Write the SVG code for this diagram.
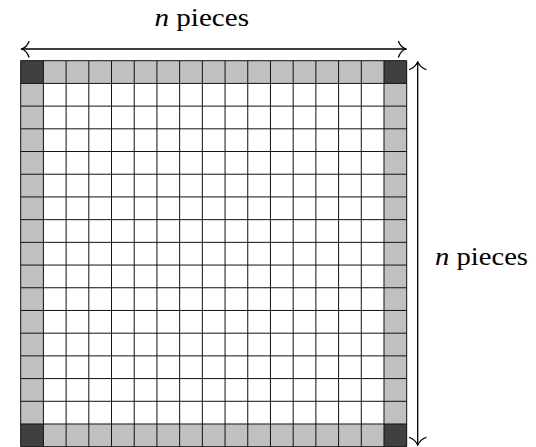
<svg xmlns="http://www.w3.org/2000/svg" width="536" height="447" viewBox="0 0 536 447">
<style>
.lbl{font-family:"Liberation Serif","DejaVu Serif",serif;font-size:26px;fill:#000}
.ln{fill:none;stroke:#000;stroke-width:1.3;stroke-linecap:round;stroke-linejoin:round}
.grid{fill:none;stroke:#111;stroke-width:1}
</style>
<rect width="536" height="447" fill="#fff"/>
<g id="board" transform="translate(20.7,60.7) scale(22.706)">
<rect x="0" y="0" width="17" height="17" fill="#c0c0c0"/>
<rect x="1" y="1" width="15" height="15" fill="#fff"/>
<rect x="0" y="0" width="1" height="1" fill="#404040"/>
<rect x="16" y="0" width="1" height="1" fill="#404040"/>
<rect x="0" y="16" width="1" height="1" fill="#404040"/>
<rect x="16" y="16" width="1" height="1" fill="#404040"/>
<path class="grid" vector-effect="non-scaling-stroke" d="M0 0V17M1 0V17M2 0V17M3 0V17M4 0V17M5 0V17M6 0V17M7 0V17M8 0V17M9 0V17M10 0V17M11 0V17M12 0V17M13 0V17M14 0V17M15 0V17M16 0V17M17 0V17M0 0H17M0 1H17M0 2H17M0 3H17M0 4H17M0 5H17M0 6H17M0 7H17M0 8H17M0 9H17M0 10H17M0 11H17M0 12H17M0 13H17M0 14H17M0 15H17M0 16H17M0 17H17"/>
</g>
<g id="connectors">
<g id="top-arrow">
<path class="ln" d="M21.5 49H406"/>
<path class="ln" d="M29 41.5C27.5 45.5 24.5 48 21.5 49C24.5 50 27.5 52.5 29 57"/>
<path class="ln" d="M398.5 41.5C400 45.5 403 48 406 49C403 50 400 52.5 398.5 57"/>
</g>
<g id="right-arrow">
<path class="ln" d="M417.7 62V445"/>
<path class="ln" d="M409.5 69.5C413.5 68 416.2 65 417.7 62C419.2 65 421.9 68 425.9 69.5"/>
<path class="ln" d="M409.5 437.5C413.5 439 416.2 442 417.7 445C419.2 442 421.9 439 425.9 437.5"/>
</g>
</g>
<g id="label-top"><text class="lbl" x="154.5" y="26" textLength="94.5" lengthAdjust="spacingAndGlyphs"><tspan font-style="italic">n</tspan> pieces</text></g>
<g id="label-right"><text class="lbl" x="435" y="265" textLength="93" lengthAdjust="spacingAndGlyphs"><tspan font-style="italic">n</tspan> pieces</text></g>
</svg>
